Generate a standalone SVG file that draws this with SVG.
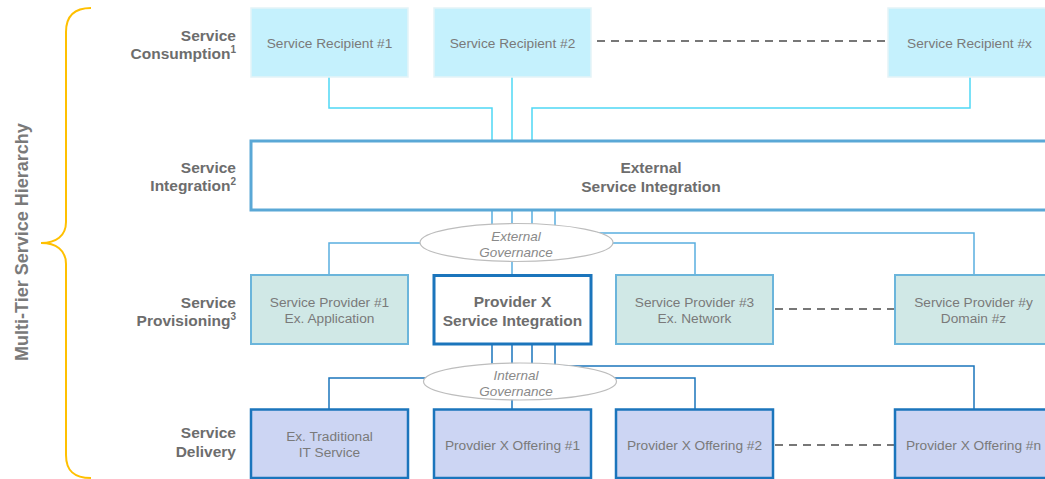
<svg xmlns="http://www.w3.org/2000/svg" width="1045" height="479" viewBox="0 0 1045 479">
<style>
  .lbl { font-family: "Liberation Sans", Arial, sans-serif; font-weight: bold; font-size: 15.5px; fill: #6d6d6d; text-anchor: end; }
  .sup { font-size: 10px; }
  .ntxt { font-family: "Liberation Sans", Arial, sans-serif; font-size: 13.7px; fill: #7a7a7a; text-anchor: middle; }
  .btxt { font-family: "Liberation Sans", Arial, sans-serif; font-weight: bold; font-size: 15.5px; fill: #6d6d6d; text-anchor: middle; }
  .gtxt { font-family: "Liberation Sans", Arial, sans-serif; font-style: italic; font-size: 13.5px; fill: #8a8a8a; text-anchor: middle; }
  .recip { fill: #c5f1fd; stroke: #e4f3f7; stroke-width: 1.5; }
  .prov { fill: #d0e8e6; stroke: #6bb5db; stroke-width: 2; }
  .deliv { fill: #ccd5f3; stroke: #1b75bc; stroke-width: 2.5; }
  .c1 { fill: none; stroke: #4fd8f5; stroke-width: 1.5; }
  .c2 { fill: none; stroke: #5aaedf; stroke-width: 1.5; }
  .c3 { fill: none; stroke: #1b75bc; stroke-width: 1.5; }
  .dash { fill: none; stroke: #777777; stroke-width: 2; stroke-dasharray: 8 6; }
  .gov { fill: #ffffff; stroke: #bdbdbd; stroke-width: 1.2; }
</style>

<g id="hierarchy">
  <path d="M 91 8 C 74 8, 66 16, 66 32 L 66 222 C 66 236, 56 243, 41 243 C 56 243, 66 250, 66 264 L 66 455 C 66 471, 74 478, 91 478" fill="none" stroke="#ffc000" stroke-width="2"/>
  <text transform="translate(27.5 242) rotate(-90)" font-family="Liberation Sans, Arial, sans-serif" font-weight="bold" font-size="18" fill="#7a7a7a" text-anchor="middle">Multi-Tier Service Hierarchy</text>
</g>

<g id="row-labels">
  <text class="lbl" x="236" y="41">Service</text>
  <text class="lbl" x="236" y="59">Consumption<tspan class="sup" dy="-6">1</tspan></text>
  <text class="lbl" x="236" y="173">Service</text>
  <text class="lbl" x="236" y="191">Integration<tspan class="sup" dy="-6">2</tspan></text>
  <text class="lbl" x="236" y="308">Service</text>
  <text class="lbl" x="236" y="326">Provisioning<tspan class="sup" dy="-6">3</tspan></text>
  <text class="lbl" x="236" y="438">Service</text>
  <text class="lbl" x="236" y="457">Delivery</text>
</g>

<g id="connectors">
  <path class="c1" d="M 329 77 V 108 H 492 V 140"/>
  <path class="c1" d="M 512 77 V 140"/>
  <path class="c1" d="M 970 77 V 108 H 532 V 140"/>
  <path class="c2" d="M 492 210 V 243 H 329 V 275"/>
  <path class="c2" d="M 512 210 V 275"/>
  <path class="c2" d="M 532 210 V 243 H 695 V 275"/>
  <path class="c2" d="M 555 210 V 233 H 974 V 275"/>
  <path class="c3" d="M 492 344 V 378 H 329 V 409"/>
  <path class="c3" d="M 512 344 V 409"/>
  <path class="c3" d="M 532 344 V 378 H 695 V 409"/>
  <path class="c3" d="M 555 344 V 366 H 974 V 409"/>
  <line class="dash" x1="597" y1="41" x2="887" y2="41"/>
  <line class="dash" x1="775" y1="309" x2="894" y2="309"/>
  <line class="dash" x1="775" y1="445" x2="894" y2="445"/>
</g>

<g id="recipient-1">
  <rect class="recip" x="251" y="8" width="157" height="69"/>
  <text class="ntxt" x="329.5" y="48">Service Recipient #1</text>
</g>
<g id="recipient-2">
  <rect class="recip" x="434" y="8" width="157" height="69"/>
  <text class="ntxt" x="512.5" y="48">Service Recipient #2</text>
</g>
<g id="recipient-x">
  <rect class="recip" x="888" y="8" width="163" height="69"/>
  <text class="ntxt" x="969.5" y="48">Service Recipient #x</text>
</g>

<g id="external-integration">
  <rect x="251" y="141" width="800" height="69" fill="#ffffff" stroke="#5aa8d6" stroke-width="3"/>
  <text class="btxt" x="651" y="173">External</text>
  <text class="btxt" x="651" y="192">Service Integration</text>
</g>

<g id="external-governance">
  <ellipse class="gov" cx="516.5" cy="242.5" rx="96.5" ry="19"/>
  <text class="gtxt" x="516" y="240.5">External</text>
  <text class="gtxt" x="516" y="256.5">Governance</text>
</g>

<g id="provider-1">
  <rect class="prov" x="251" y="275" width="157" height="69"/>
  <text class="ntxt" x="329.5" y="307">Service Provider #1</text>
  <text class="ntxt" x="329.5" y="323">Ex. Application</text>
</g>
<g id="provider-x-integration">
  <rect x="434" y="275.5" width="157" height="68.5" fill="#ffffff" stroke="#1b75bc" stroke-width="3"/>
  <text class="btxt" x="512.5" y="307">Provider X</text>
  <text class="btxt" x="512.5" y="326">Service Integration</text>
</g>
<g id="provider-3">
  <rect class="prov" x="616" y="275" width="157" height="69"/>
  <text class="ntxt" x="694.5" y="307">Service Provider #3</text>
  <text class="ntxt" x="694.5" y="323">Ex. Network</text>
</g>
<g id="provider-y">
  <rect class="prov" x="895" y="275" width="158" height="69"/>
  <text class="ntxt" x="973.5" y="307">Service Provider #y</text>
  <text class="ntxt" x="973.5" y="323">Domain #z</text>
</g>

<g id="internal-governance">
  <ellipse class="gov" cx="520" cy="381.5" rx="96.5" ry="18.5"/>
  <text class="gtxt" x="516" y="379.5">Internal</text>
  <text class="gtxt" x="516" y="395.5">Governance</text>
</g>

<g id="offering-traditional">
  <rect class="deliv" x="251" y="409.5" width="157" height="68.5"/>
  <text class="ntxt" x="329.5" y="441">Ex. Traditional</text>
  <text class="ntxt" x="329.5" y="457">IT Service</text>
</g>
<g id="offering-1">
  <rect class="deliv" x="434" y="409.5" width="157" height="68.5"/>
  <text class="ntxt" x="512.5" y="450">Provdier X Offering #1</text>
</g>
<g id="offering-2">
  <rect class="deliv" x="616" y="409.5" width="157" height="68.5"/>
  <text class="ntxt" x="694.5" y="450">Provider X Offering #2</text>
</g>
<g id="offering-n">
  <rect class="deliv" x="895" y="409.5" width="158" height="68.5"/>
  <text class="ntxt" x="973.5" y="450">Provider X Offering #n</text>
</g>
</svg>
